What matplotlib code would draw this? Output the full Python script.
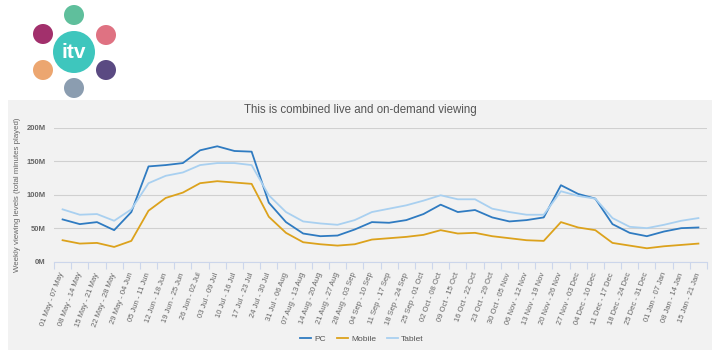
import matplotlib
matplotlib.use("Agg")
import matplotlib.pyplot as plt
from matplotlib.patches import Circle, Rectangle
import numpy as np

plt.rcParams['font.family'] = ['Liberation Sans', 'DejaVu Sans']

weeks = ["01 May - 07 May", "08 May - 14 May", "15 May - 21 May", "22 May - 28 May",
         "29 May - 04 Jun", "05 Jun - 11 Jun", "12 Jun - 18 Jun", "19 Jun - 25 Jun",
         "26 Jun - 02 Jul", "03 Jul - 09 Jul", "10 Jul - 16 Jul", "17 Jul - 23 Jul",
         "24 Jul - 30 Jul", "31 Jul - 06 Aug", "07 Aug - 13 Aug", "14 Aug - 20 Aug",
         "21 Aug - 27 Aug", "28 Aug - 03 Sep", "04 Sep - 10 Sep", "11 Sep - 17 Sep",
         "18 Sep - 24 Sep", "25 Sep - 01 Oct", "02 Oct - 08 Oct", "09 Oct - 15 Oct",
         "16 Oct - 22 Oct", "23 Oct - 29 Oct", "30 Oct - 05 Nov", "06 Nov - 12 Nov",
         "13 Nov - 19 Nov", "20 Nov - 26 Nov", "27 Nov - 03 Dec", "04 Dec - 10 Dec",
         "11 Dec - 17 Dec", "18 Dec - 24 Dec", "25 Dec - 31 Dec", "01 Jan - 07 Jan",
         "08 Jan - 14 Jan", "15 Jan - 21 Jan"]

pc = [63, 56, 59, 47, 74, 142, 144, 147, 166, 172, 165, 164, 88, 59, 42, 38, 39, 48,
      59, 58, 62, 71, 85, 74, 77, 66, 60, 62, 66, 114, 101, 94, 56, 43, 38, 45, 50, 51]
mobile = [32, 27, 28, 22, 31, 76, 95, 103, 117, 120, 118, 116, 67, 43, 29, 26, 24, 26,
          33, 35, 37, 40, 47, 42, 43, 38, 35, 32, 31, 59, 51, 47, 28, 24, 20, 23, 25, 27]
tablet = [78, 70, 71, 61, 78, 117, 128, 133, 144, 147, 147, 144, 99, 74, 60, 57, 55, 62,
          74, 79, 84, 91, 99, 93, 93, 79, 74, 70, 70, 105, 98, 94, 65, 52, 50, 55, 61, 65]

series_names = ["PC", "Mobile", "Tablet"]
series_colors = ["#2f7bc1", "#dca21c", "#a9d0f0"]

y_ticks = [0, 50, 100, 150, 200]
y_tick_labels = ["0M", "50M", "100M", "150M", "200M"]

W, H = 718, 356
fig = plt.figure(figsize=(W / 100, H / 100), dpi=100)

# background / logo layer in pixel coords
bg = fig.add_axes([0, 0, 1, 1], zorder=0)
bg.set_xlim(0, W)
bg.set_ylim(H, 0)
bg.axis('off')
bg.add_patch(Rectangle((8, 100), 704, 250, facecolor="#f2f2f2", edgecolor="none"))
logo = [((74, 15), "#5fbf9c"), ((43, 34), "#a2306c"), ((106, 35), "#df7282"),
        ((43, 70), "#eca670"), ((106, 70), "#5a4a82"), ((74, 88), "#8b9db0")]
for (cx, cy), col in logo:
    bg.add_patch(Circle((cx, cy), 10, facecolor=col, edgecolor="none"))
bg.add_patch(Circle((74, 52), 21, facecolor="#3ec6bd", edgecolor="none"))
bg.text(74, 53, "itv", color="white", fontsize=15, fontweight="bold",
        ha="center", va="center")

left, right = 54 / W, 707 / W
top, bottom = 1 - 127.5 / H, 1 - 261.7 / H
ax = fig.add_axes([left, bottom, right - left, top - bottom], zorder=1)
ax.set_facecolor("none")

x = np.arange(len(weeks))
for vals, name, col in zip([pc, mobile, tablet], series_names, series_colors):
    ax.plot(x, vals, color=col, lw=1.3, label=name, solid_joinstyle="round")

ax.set_xlim(-0.5, len(weeks) - 0.5)
ax.set_ylim(0, 200)
ax.set_yticks(y_ticks)
ax.set_yticklabels(y_tick_labels, fontsize=5.5, color="#666666", fontweight="bold")
ax.tick_params(axis='y', length=0, pad=6)
ax.grid(axis='y', color="#d0d0d0", lw=0.8)
ax.set_axisbelow(True)
for s in ["top", "right", "left"]:
    ax.spines[s].set_visible(False)
ax.spines["bottom"].set_color("#ccd6eb")
ax.spines["bottom"].set_linewidth(0.8)

ax.set_xticks(x)
ax.set_xticklabels(weeks, rotation=70, ha="right", va="center", rotation_mode="anchor",
                   fontsize=5.5, color="#666666")
ax.tick_params(axis='x', which='major', length=0, pad=8)
ax.set_xticks(np.arange(len(weeks) + 1) - 0.5, minor=True)
ax.tick_params(axis='x', which='minor', length=5, color="#ccd6eb", width=0.8)

ax.set_ylabel("Weekly viewing levels (total minutes played)", fontsize=5.7,
              color="#666666", labelpad=4)

fig.text(360 / W, 1 - 110.5 / H, "This is combined live and on-demand viewing",
         ha="center", va="center", fontsize=8.3, color="#555555")

leg = fig.legend(loc="center", bbox_to_anchor=(362 / W, 1 - 339.5 / H), ncol=3,
                 frameon=False, fontsize=6, handlelength=1.3, handletextpad=0.4,
                 columnspacing=1.3, labelcolor="#555555")

fig.savefig("out.png", dpi=100)
